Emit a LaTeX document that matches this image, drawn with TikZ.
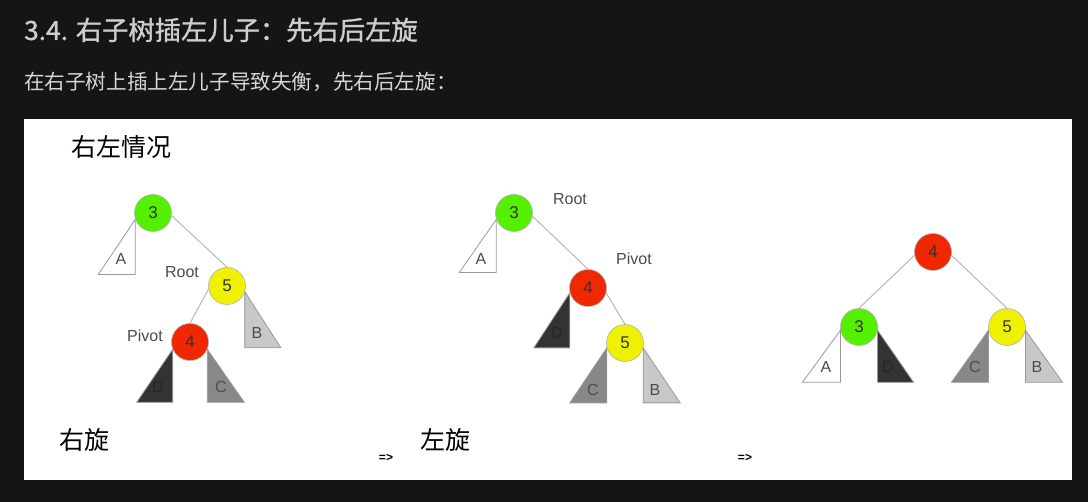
\documentclass[tikz,border=0pt]{standalone}
\usepackage{fontspec}
\setmainfont{Liberation Sans}
\newfontfamily\cjk{Noto Sans CJK SC}
\newfontfamily\cjktitle{Noto Sans CJK SC}[FakeBold=1.2]
\definecolor{bgdark}{RGB}{20,21,21}
\definecolor{titlegray}{RGB}{205,205,205}
\definecolor{subgray}{RGB}{215,215,215}
\definecolor{ngreen}{RGB}{85,240,0}
\definecolor{nyellow}{RGB}{238,242,0}
\definecolor{nred}{RGB}{240,40,0}
\definecolor{fillB}{RGB}{200,200,200}
\definecolor{fillC}{RGB}{136,136,136}
\definecolor{fillD}{RGB}{51,51,51}
\begin{document}
\begin{tikzpicture}[x=1pt,y=-1pt,
  nd/.style={circle,minimum size=37pt,inner sep=0pt,draw=black!30,line width=0.6pt,font=\fontsize{17}{17}\selectfont,text=black!80},
  edge/.style={draw=black!30,line width=0.9pt},
  tri/.style={draw=black!40,line width=0.8pt},
  tlab/.style={font=\fontsize{16}{16}\selectfont,text=black!70,inner sep=0pt},
  lab/.style={font=\fontsize{16}{16}\selectfont,text=black!70,inner sep=0pt},
  cn/.style={font=\cjk\fontsize{25}{25}\selectfont,text=black,inner sep=0pt},
  arr/.style={font=\bfseries\fontsize{12}{12}\selectfont,inner sep=0pt}
]
\useasboundingbox (0,0) rectangle (1088,502);
\fill[bgdark] (0,0) rectangle (1088,502);
\fill[white] (24,119) rectangle (1072,480);

% headings
\node[anchor=west,inner sep=0pt,text=titlegray,font=\cjktitle\fontsize{26.3}{26.3}\selectfont] (title) at (24,30) {3.4. 右子树插左儿子：先右后左旋};
\node[anchor=west,inner sep=0pt,text=subgray,font=\cjk\fontsize{20.6}{20.6}\selectfont] (sub) at (24,82) {在右子树上插上左儿子导致失衡，先右后左旋：};

\node[cn] (case) at (121.5,147) {右左情况};
\node[cn] (rrot) at (84,440) {右旋};
\node[cn] (lrot) at (445,440) {左旋};
\node[arr] (ar1) at (386,458) {=>};
\node[arr] (ar2) at (745,458) {=>};

% ---- tree 1 ----
\node[nd,fill=ngreen] (a3) at (153,213) {3};
\node[nd,fill=nyellow] (a5) at (227,286) {5};
\node[nd,fill=nred] (a4) at (190,342) {4};
\draw[edge] (a3.-8) -- (a5.north);
\draw[edge] (a5.190) -- (a4.north);
\draw[tri,fill=white] (a3.200) -- ++(0,55) -- ++(-37,0) -- cycle;
\draw[tri,fill=fillB] (a5.-18) -- ++(0,56) -- ++(36,0) -- cycle;
\draw[tri,fill=fillD] (a4.203) -- ++(0,53) -- ++(-36,0) -- cycle;
\draw[tri,fill=fillC] (a4.-23) -- ++(0,53) -- ++(37,0) -- cycle;
\node[tlab] (aA) at (121,259) {A};
\node[tlab] (aB) at (257,333) {B};
\node[tlab,text=black!85] (aD) at (158,387) {D};
\node[tlab] (aC) at (221,387) {C};
\node[lab] (aroot) at (182,272) {Root};
\node[lab] (apiv) at (145,336) {Pivot};

% ---- tree 2 ----
\node[nd,fill=ngreen] (b3) at (514,213) {3};
\node[nd,fill=nred] (b4) at (588,288) {4};
\node[nd,fill=nyellow] (b5) at (625,343) {5};
\draw[edge] (b3.-10) -- (b4.north);
\draw[edge] (b4.-15) -- (b5.north);
\draw[tri,fill=white] (b3.200) -- ++(0,53) -- ++(-37,0) -- cycle;
\draw[tri,fill=fillD] (b4.195) -- ++(0,55) -- ++(-36,0) -- cycle;
\draw[tri,fill=fillC] (b5.195) -- ++(0,55) -- ++(-37,0) -- cycle;
\draw[tri,fill=fillB] (b5.-15) -- ++(0,55) -- ++(37,0) -- cycle;
\node[tlab] (bA) at (481,259) {A};
\node[tlab,text=black!85] (bD) at (557,333) {D};
\node[tlab] (bC) at (593,390) {C};
\node[tlab] (bB) at (655,390) {B};
\node[lab] (broot) at (570,199) {Root};
\node[lab] (bpiv) at (634,259) {Pivot};

% ---- tree 3 ----
\node[nd,fill=nred] (c4) at (933,252) {4};
\node[nd,fill=ngreen] (c3) at (859,327) {3};
\node[nd,fill=nyellow] (c5) at (1007,327) {5};
\draw[edge] (c4.190) -- (c3.north);
\draw[edge] (c4.-10) -- (c5.north);
\draw[tri,fill=white] (c3.190) -- ++(0,52) -- ++(-38,0) -- cycle;
\draw[tri,fill=fillD] (c3.-10) -- ++(0,52) -- ++(36,0) -- cycle;
\draw[tri,fill=fillC] (c5.190) -- ++(0,52) -- ++(-37,0) -- cycle;
\draw[tri,fill=fillB] (c5.-10) -- ++(0,52) -- ++(37,0) -- cycle;
\node[tlab] (cA) at (826,367) {A};
\node[tlab,text=black!85] (cD) at (888,367) {D};
\node[tlab] (cC) at (975,367) {C};
\node[tlab] (cB) at (1037,367) {B};
\end{tikzpicture}
\end{document}
